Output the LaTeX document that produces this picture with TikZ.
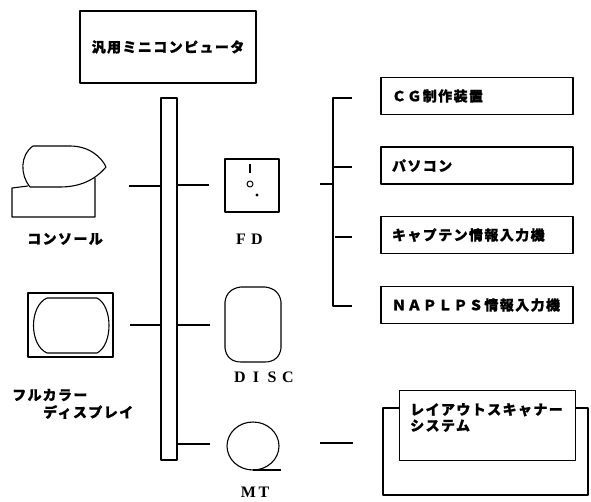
\documentclass[tikz,border=0pt]{standalone}
\usepackage{fontspec}
\newfontfamily\jpfont{Noto Sans CJK JP}[LetterSpace=10, BoldFeatures={FakeBold=1}]
\newfontfamily\latfont{Liberation Serif}
\newcommand\fwl[1]{\makebox[16pt]{#1}}
\tikzset{
  wire/.style={line width=1.1pt},
  jp/.style={font=\jpfont\bfseries\fontsize{14}{16}\selectfont, inner sep=0pt},
  lat/.style={font=\latfont\bfseries\fontsize{16}{18}\selectfont, inner sep=0pt},
  unitbox/.style={draw, line width=1.1pt, minimum height=37pt, text width=170pt,
    inner xsep=11pt, inner ysep=0pt, align=left,
    font=\jpfont\bfseries\fontsize{14}{16}\selectfont},
}
\begin{document}
\begin{tikzpicture}[x=1pt, y=-1pt, line join=round]
\useasboundingbox (0,0) rectangle (591,502);

% host computer and system bus
\node[draw, line width=1.1pt, minimum width=176pt, minimum height=72pt, inner sep=0pt,
  font=\jpfont\bfseries\fontsize{14}{16}\selectfont] (host) at (168,47) {汎用ミニコンピュータ};
\node[draw, line width=1.1pt, minimum width=16pt, minimum height=362pt, inner sep=0pt] (bus) at (169,279) {};

% console
\draw[wire] (33,146) -- (70,146) .. controls (90,146) and (102,158) .. (106,167)
  .. controls (95,180) and (80,187) .. (60,187) -- (30,187)
  .. controls (20,175) and (20,155) .. (33,146);
\draw[wire] (28,186) -- (12,188) -- (12,217) -- (95,217) -- (95,178);
\node[jp] (conlabel) at (65,239) {コンソール};
\coordinate (con) at (129,186);

% full colour display
\draw[wire] (28,293) rectangle (113,357);
\draw[wire] (47,298) -- (97,298) .. controls (113,306) and (113,345) .. (97,353)
  -- (47,353) .. controls (29,345) and (29,306) .. (47,298);
\node[jp, anchor=west] (displabel1) at (12,395) {フルカラー};
\node[jp, anchor=west] (displabel2) at (43,412) {ディスプレイ};
\coordinate (disp) at (130,325);

% floppy disk drive
\node[draw, line width=1.1pt, minimum width=54pt, minimum height=53pt, inner sep=0pt] (fd) at (252,185.5) {};
\draw[wire] (250,164) -- (250,173);
\draw[line width=1pt] (250,184) circle[radius=3pt];
\fill (257,195) circle[radius=1.6pt];
\node[lat] (fdlabel) at (249,239) {\fwl{F}\fwl{D}};
\coordinate (fdw) at (209,185);

% disc
\draw[wire] (225,302) .. controls (226,293) and (232,288) .. (241,287) -- (265,287)
  .. controls (274,288) and (280,293) .. (281,302) -- (281,348)
  .. controls (280,357) and (274,362) .. (265,362) -- (241,362)
  .. controls (232,362) and (226,357) .. (225,348) -- cycle;
\node[lat] (disclabel) at (264,377) {\fwl{D}\fwl{I}\fwl{S}\fwl{C}};
\coordinate (disc) at (210,325);

% magnetic tape
\draw[wire] (253,446) ellipse[x radius=26pt, y radius=24pt];
\draw[wire] (253,470) -- (281,470);
\node[lat] (mtlabel) at (255,492) {M\,T};
\coordinate (mt) at (210,444);

% bus connections
\draw[wire] (con) -- (con -| bus.west);
\draw[wire] (disp) -- (disp -| bus.west);
\draw[wire] (fdw) -- (fdw -| bus.east);
\draw[wire] (disc) -- (disc -| bus.east);
\draw[wire] (mt) -- (mt -| bus.east);

% external devices
\node[unitbox] (cg)   at (477,96)  {ＣＧ制作装置};
\node[unitbox] (pc)   at (477,165.5) {パソコン};
\node[unitbox] (cap)  at (477,235) {キャプテン情報入力機};
\node[unitbox] (nap)  at (477,305) {ＮＡＰＬＰＳ情報入力機};

% branch bracket
\coordinate (stub) at (320,184);
\coordinate (brk) at (333,184);
\draw[wire] (stub) -- (brk);
\draw[wire] (352,98) -- (333,98) -- (333,306) -- (352,306);
\draw[wire] (333,167) -- (352,167);
\draw[wire] (335,237) -- (352,237);

% layout scanner system
\draw[wire] (383,408) rectangle (588,495);
\node[draw, fill=white, line width=1.1pt, minimum width=176pt, minimum height=70pt, inner sep=0pt,
  anchor=north west] (scan) at (399,390) {};
\node[jp, anchor=north west, align=left]
  (scantext) at (410,403) {レイアウトスキャナー\\システム};
\coordinate (mtr) at (320,443);
\coordinate (scl) at (353,443);
\draw[wire] (mtr) -- (scl);
\end{tikzpicture}
\end{document}
